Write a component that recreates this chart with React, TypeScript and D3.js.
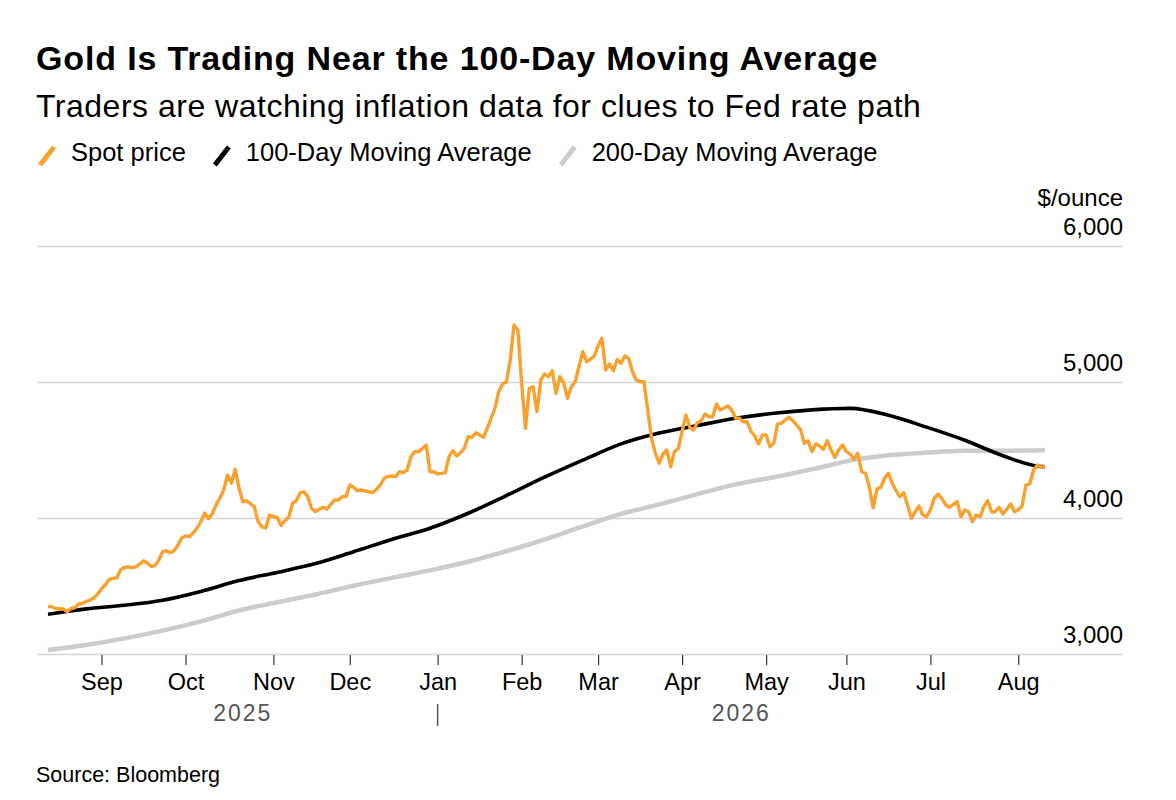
import React, { useEffect, useRef } from 'react';
import * as d3 from 'd3';

const WIDTH = 1176;
const HEIGHT = 800;
const FONT = "'Liberation Sans', Arial, Helvetica, sans-serif";

const chartTitle = 'Gold Is Trading Near the 100-Day Moving Average';
const chartSubtitle = 'Traders are watching inflation data for clues to Fed rate path';
const sourceNote = 'Source: Bloomberg';
const unitLabel = '$/ounce';

const seriesNames = ['Spot price', '100-Day Moving Average', '200-Day Moving Average'];
const seriesColors = ['#f9a12e', '#000000', '#cccccc'];

// first and last trading day shown (weekdays only on the x axis)
const firstDay = new Date(2025, 7, 12);
const lastDay = new Date(2026, 7, 12);

const yTicks = [3000, 4000, 5000, 6000];
const yearLabels = ['2025', '2026'];

// spot close, one value per weekday
const spotPrice = [
  3348, 3348, 3335, 3331, 3331, 3311, 3335, 3340, 3368, 3372,
  3385, 3397, 3412, 3440, 3480, 3507, 3548, 3556, 3560, 3620,
  3636, 3640, 3634, 3640, 3660, 3686, 3669, 3645, 3650, 3690,
  3752, 3758, 3745, 3760, 3800, 3853, 3868, 3862, 3890, 3926,
  3973, 4037, 3995, 4030, 4096, 4147, 4206, 4316, 4257, 4358,
  4220, 4120, 4127, 4105, 4083, 3973, 3936, 3926, 4022, 4010,
  4005, 3945, 3980, 4005, 4108, 4127, 4184, 4193, 4157, 4071,
  4046, 4064, 4079, 4064, 4100, 4132, 4132, 4157, 4157, 4243,
  4226, 4201, 4206, 4200, 4193, 4186, 4211, 4243, 4292, 4305,
  4309, 4304, 4340, 4333, 4353, 4451, 4488, 4488, 4510, 4537,
  4340, 4340, 4324, 4328, 4333, 4451, 4495, 4456, 4480, 4513,
  4598, 4593, 4627, 4610, 4593, 4660, 4733, 4807, 4929, 4985,
  5002, 5162, 5419, 5382, 4990, 4660, 4954, 4965, 4782, 5015,
  5059, 5040, 5083, 4917, 5039, 4990, 4880, 4965, 5002, 5113,
  5223, 5149, 5167, 5191, 5265, 5321, 5088, 5132, 5083, 5167,
  5137, 5191, 5174, 5076, 5015, 5002, 5002, 4794, 4586, 4476,
  4402, 4471, 4500, 4377, 4488, 4512, 4635, 4757, 4667, 4647,
  4701, 4715, 4765, 4745, 4745, 4838, 4794, 4807, 4824, 4794,
  4733, 4733, 4708, 4708, 4640, 4603, 4544, 4610, 4610, 4524,
  4549, 4691, 4696, 4721, 4740, 4715, 4684, 4650, 4549, 4568,
  4488, 4544, 4529, 4505, 4568, 4500, 4446, 4500, 4537, 4488,
  4471, 4432, 4476, 4340, 4329, 4230, 4075, 4211, 4226, 4292,
  4329, 4255, 4201, 4157, 4186, 4096, 3998, 4046, 4088, 4022,
  4010, 4059, 4145, 4176, 4145, 4096, 4079, 4100, 4120, 4010,
  4059, 4046, 3973, 4022, 4010, 4083, 4127, 4046, 4046, 4079,
  4029, 4064, 4103, 4046, 4059, 4088, 4243, 4250, 4353, 4390,
  4373, 4377,
];

// moving averages read every 10 weekdays, plus the last day
const maStep = 10;
const ma100 = [
  3292, 3332, 3358, 3395, 3460, 3540, 3600, 3665, 3752, 3842,
  3925, 4035, 4165, 4300, 4425, 4545, 4625, 4680, 4733, 4770,
  4795, 4806, 4755, 4668, 4572, 4458, 4378, 4377,
];
const ma200 = [
  3029, 3066, 3115, 3172, 3240, 3320, 3380, 3438, 3502, 3560,
  3615, 3678, 3756, 3842, 3938, 4030, 4100, 4175, 4247, 4300,
  4358, 4422, 4461, 4481, 4494, 4495, 4498, 4500,
];

const GoldChart: React.FC = () => {
  const svgRef = useRef<SVGSVGElement>(null);

  useEffect(() => {
    if (!svgRef.current) return;
    document.body.style.margin = '0';

    const svg = d3.select(svgRef.current);
    svg.selectAll('*').remove();

    const days = d3.timeDay
      .range(firstDay, d3.timeDay.offset(lastDay, 1))
      .filter(d => d.getDay() % 6 !== 0);
    const last = days.length - 1;

    const plotLeft = 37;
    const plotRight = 1123;

    const x = d3.scaleLinear().domain([0, last]).range([48, 1045]);
    const y = d3.scaleLinear().domain([3000, 6000]).range([654, 246]);

    // header
    svg.append('text')
      .attr('x', 36).attr('y', 70)
      .style('font', `bold 34px ${FONT}`)
      .style('letter-spacing', '0.85px')
      .attr('fill', '#000')
      .text(chartTitle);

    svg.append('text')
      .attr('x', 36).attr('y', 117)
      .style('font', `32px ${FONT}`)
      .style('letter-spacing', '0.5px')
      .attr('fill', '#000')
      .text(chartSubtitle);

    // legend
    const legend = svg.append('g').attr('transform', 'translate(40,161)');
    let lx = 0;
    seriesNames.forEach((name, i) => {
      legend.append('line')
        .attr('x1', lx).attr('y1', 4)
        .attr('x2', lx + 14).attr('y2', -14)
        .attr('stroke', seriesColors[i])
        .attr('stroke-width', 5);
      const t = legend.append('text')
        .attr('x', lx + 31).attr('y', 0)
        .style('font', `25.5px ${FONT}`)
        .attr('fill', '#000')
        .text(name);
      const w = (t.node() as SVGTextElement).getComputedTextLength();
      lx += 31 + w + 29;
    });

    // y axis: gridlines with labels above them on the right
    const yAxis = svg.append('g')
      .attr('transform', `translate(${plotLeft},0)`)
      .call(d3.axisRight(y).tickValues(yTicks).tickSize(plotRight - plotLeft).tickFormat(d3.format(',')));
    yAxis.select('.domain').remove();
    yAxis.selectAll('.tick line')
      .attr('stroke', '#d4d4d4')
      .attr('stroke-width', 1.5);
    yAxis.selectAll('.tick text')
      .attr('x', plotRight - plotLeft)
      .attr('dy', null)
      .attr('y', -12)
      .attr('text-anchor', 'end')
      .style('font', `24px ${FONT}`)
      .attr('fill', '#000');

    svg.append('text')
      .attr('x', plotRight).attr('y', 206)
      .attr('text-anchor', 'end')
      .style('font', `24px ${FONT}`)
      .attr('fill', '#000')
      .text(unitLabel);

    // x axis: first trading day of each month
    const monthStarts = d3.timeMonth.range(d3.timeMonth.ceil(days[0]), days[last]);
    const bisect = d3.bisector((d: Date) => d).left;
    const monthIdx = monthStarts.map(m => bisect(days, m));
    const monthFmt = d3.timeFormat('%b');

    const xAxis = svg.append('g')
      .attr('transform', 'translate(0,654)')
      .call(d3.axisBottom(x).tickValues(monthIdx).tickSize(11).tickFormat(i => monthFmt(days[i as number])));
    xAxis.select('.domain').remove();
    xAxis.selectAll('.tick line')
      .attr('stroke', '#333')
      .attr('stroke-width', 1.2)
      .attr('y1', 1);
    xAxis.selectAll('.tick text')
      .attr('dy', null)
      .attr('y', 36)
      .style('font', `23.5px ${FONT}`)
      .attr('fill', '#000');

    // year labels
    const janIdx = monthIdx[monthStarts.findIndex(m => m.getMonth() === 0)];
    const yearSpans = [[0, janIdx], [janIdx, last]];
    yearLabels.forEach((label, i) => {
      svg.append('text')
        .attr('x', (x(yearSpans[i][0]) + x(yearSpans[i][1])) / 2)
        .attr('y', 721)
        .attr('text-anchor', 'middle')
        .style('font', `23px ${FONT}`)
        .style('letter-spacing', '2px')
        .attr('fill', '#555')
        .text(label);
    });
    svg.append('line')
      .attr('x1', x(janIdx)).attr('x2', x(janIdx))
      .attr('y1', 704).attr('y2', 726)
      .attr('stroke', '#555')
      .attr('stroke-width', 1.5);

    // lines
    const maIdx = d3.range(0, last, maStep).concat([last]);
    const maLine = d3.line<number>()
      .x((_, i) => x(maIdx[i]))
      .y(d => y(d))
      .curve(d3.curveMonotoneX);
    const spotLine = d3.line<number>()
      .x((_, i) => x(i))
      .y(d => y(d));

    svg.append('path')
      .attr('d', maLine(ma200))
      .attr('fill', 'none')
      .attr('stroke', seriesColors[2])
      .attr('stroke-width', 4.5);

    svg.append('path')
      .attr('d', maLine(ma100))
      .attr('fill', 'none')
      .attr('stroke', seriesColors[1])
      .attr('stroke-width', 3.6);

    svg.append('path')
      .attr('d', spotLine(spotPrice))
      .attr('fill', 'none')
      .attr('stroke', seriesColors[0])
      .attr('stroke-width', 3.4)
      .attr('stroke-linejoin', 'round');

    // source
    svg.append('text')
      .attr('x', 36).attr('y', 782)
      .style('font', `21.5px ${FONT}`)
      .attr('fill', '#000')
      .text(sourceNote);
  }, []);

  return <svg ref={svgRef} width={WIDTH} height={HEIGHT} style={{ display: 'block', background: '#fff' }} />;
};

export default function App() {
  return <GoldChart />;
}
